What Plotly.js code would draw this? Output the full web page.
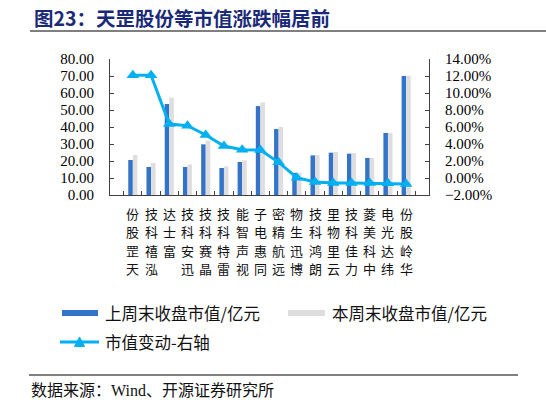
<!DOCTYPE html>
<html>
<head>
<meta charset="utf-8">
<script src="https://cdn.plot.ly/plotly-3.0.1.min.js"></script>
<style>html,body{margin:0;padding:0;background:#fff;}#chart{width:546px;height:405px;}</style>
</head>
<body>
<div id="chart"></div>
<script>
// ---- data ----
const categories = ['天罡股份','泓禧科技','富士达','迅安科技','晶赛科技','雷特科技','视声智能','同惠电子','远航精密','博迅生物','朗鸿科技','云里物里','力佳科技','中科美菱','纬达光电','华岭股份'];
const lastWeekCap = [20.6,16.5,53.5,16.5,29.8,15.9,19.4,52.3,38.8,13.0,23.3,24.9,24.3,21.8,36.5,70.0];
const thisWeekCap = [23.5,18.8,57.3,18.0,32.0,16.9,20.4,54.5,40.0,13.1,23.5,25.3,24.7,21.8,36.5,70.2];
const capChangePct = [12.1,12.1,6.35,6.15,5.06,3.76,3.33,3.29,1.84,0.04,-0.47,-0.59,-0.59,-0.60,-0.63,-0.70];
const seriesNames = ['上周末收盘市值/亿元','本周末收盘市值/亿元','市值变动-右轴'];
const titleText = '图23：天罡股份等市值涨跌幅居前';
const sourceText = '数据来源：Wind、开源证券研究所';

// ---- layout helpers ----
const W = 546, H = 405;
const M = {l:110, r:117, t:59, b:210};
const PW = W - M.l - M.r, PH = H - M.t - M.b;
const px = x => (x - M.l) / PW;
const py = y => (H - M.b - y) / PH;

const FONT = 'Liberation Serif, "Noto Sans CJK SC", serif';
const CJK = '"Noto Sans CJK SC", sans-serif';
const BLUE = '#3373C8', GRAY = '#DEDEDE', CYAN = '#00B0F0', AX = '#404040';

const traces = [
  {type:'bar', x:categories, y:lastWeekCap, name:seriesNames[0], marker:{color:BLUE}, yaxis:'y'},
  {type:'bar', x:categories, y:thisWeekCap, name:seriesNames[1], marker:{color:GRAY}, yaxis:'y'},
  {type:'scatter', mode:'lines+markers', x:categories, y:capChangePct.map(v=>v/100), name:seriesNames[2],
   yaxis:'y2', line:{color:CYAN, width:3}, marker:{symbol:'triangle-up', size:11, color:CYAN}}
];

// custom legend & frame lines
const shapes = [
  {type:'line', xref:'paper', yref:'paper', x0:px(30), x1:px(546), y0:py(31), y1:py(31), line:{color:'#555', width:1.5}},
  {type:'line', xref:'paper', yref:'paper', x0:px(29), x1:px(518), y0:py(375), y1:py(375), line:{color:'#000', width:1}},
  {type:'rect', xref:'paper', yref:'paper', x0:px(62), x1:px(98), y0:py(316), y1:py(310), fillcolor:BLUE, line:{width:0}},
  {type:'rect', xref:'paper', yref:'paper', x0:px(288), x1:px(325), y0:py(316), y1:py(310), fillcolor:GRAY, line:{width:0}},
  {type:'line', xref:'paper', yref:'paper', x0:px(60), x1:px(99), y0:py(342), y1:py(342), line:{color:CYAN, width:3}},
  {type:'path', xref:'paper', yref:'paper', fillcolor:CYAN, line:{color:CYAN, width:1},
   path:`M${px(74.5)},${py(346.5)} L${px(84.5)},${py(346.5)} L${px(79.5)},${py(337)} Z`}
];

const annotations = [
  {xref:'paper', yref:'paper', x:px(32), y:py(17), xanchor:'left', yanchor:'middle', showarrow:false,
   text:'<b>'+titleText+'</b>', font:{family:CJK, size:19.5, color:'#1B2A78'}},
  {xref:'paper', yref:'paper', x:px(103), y:py(313), xanchor:'left', yanchor:'middle', showarrow:false,
   text:seriesNames[0], font:{family:CJK, size:16.5, color:'#111'}},
  {xref:'paper', yref:'paper', x:px(330), y:py(313), xanchor:'left', yanchor:'middle', showarrow:false,
   text:seriesNames[1], font:{family:CJK, size:16.5, color:'#111'}},
  {xref:'paper', yref:'paper', x:px(103), y:py(342), xanchor:'left', yanchor:'middle', showarrow:false,
   text:seriesNames[2], font:{family:CJK, size:16.5, color:'#111'}},
  {xref:'paper', yref:'paper', x:px(29), y:py(390), xanchor:'left', yanchor:'middle', showarrow:false,
   text:sourceText, font:{family:FONT, size:16, color:'#111'}}
];

// category labels: characters stacked upright, reading upward toward the axis
const ROW0 = 213.5, ROWSTEP = 18.3;
categories.forEach(c => {
  const chars = Array.from(c).reverse();
  chars.forEach((ch, i) => {
    annotations.push({xref:'x', yref:'paper', x:c, y:py(ROW0 + i*ROWSTEP), xanchor:'center', yanchor:'middle',
      showarrow:false, text:ch, font:{family:CJK, size:13, color:'#111'}});
  });
});

const layout = {
  width:W, height:H, margin:M, paper_bgcolor:'#fff', plot_bgcolor:'#fff',
  showlegend:false, barmode:'group', bargap:0.5, bargroupgap:0,
  font:{family:FONT, color:'#000'},
  xaxis:{type:'category', categoryarray:categories, showticklabels:false,
    showline:true, linecolor:AX, linewidth:1, ticks:'inside', tickson:'boundaries', ticklen:4, tickcolor:AX,
    showgrid:false, fixedrange:true},
  yaxis:{range:[0,80], dtick:10, tickformat:'.2f', showline:true, linecolor:AX, linewidth:1,
    ticks:'inside', ticklen:4, tickcolor:AX, showgrid:false, zeroline:false,
    tickfont:{family:FONT, size:15, color:'#000'}, ticklabelstandoff:12},
  yaxis2:{overlaying:'y', side:'right', range:[-0.02,0.14], dtick:0.02, tickformat:'.2%',
    showline:true, linecolor:AX, linewidth:1, ticks:'inside', ticklen:4, tickcolor:AX,
    showgrid:false, zeroline:false, tickfont:{family:FONT, size:15, color:'#000'}, ticklabelstandoff:12},
  shapes:shapes, annotations:annotations
};

Plotly.newPlot('chart', traces, layout, {staticPlot:true, displayModeBar:false});
</script>
</body>
</html>
